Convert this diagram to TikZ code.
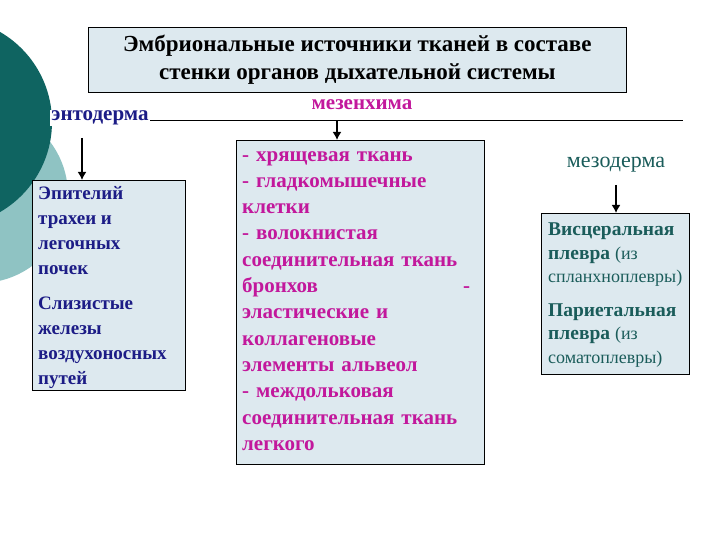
\documentclass[tikz,border=0pt]{standalone}
\usepackage{fontspec}
\usetikzlibrary{arrows.meta}
\setmainfont{Liberation Serif}
\begin{document}
\begin{tikzpicture}[x=1pt,y=-1pt,
  bx/.style={draw=black,fill=boxbg,line width=0.8pt,inner sep=0pt},
  arr/.style={-{Latex[length=8pt,width=9pt]},line width=2pt},
  lbl/.style={font=\bfseries\fontsize{21}{24}\selectfont}]
\definecolor{boxbg}{HTML}{DDE9EF}
\definecolor{dteal}{HTML}{0F6461}
\definecolor{lteal}{HTML}{8FC3C3}
\definecolor{dblue}{HTML}{1C1C86}
\definecolor{mag}{HTML}{C2189C}
\definecolor{tealtx}{HTML}{1A5C5A}
\useasboundingbox (0,0) rectangle (720,540);
\fill[lteal] (-20,195) circle (88);
\fill[dteal] (-52,122) circle (104);
\node[bx,minimum width=538,minimum height=65,anchor=north west,align=center,
  font=\bfseries\fontsize{23}{28}\selectfont] (title) at (88,27)
  {Эмбриональные источники тканей в составе\\стенки органов дыхательной системы};
\coordinate (l1) at (52,120); \coordinate (l2) at (683,120);
\draw[line width=0.8pt] (l1) -- (l2);
\node[lbl,text=dblue,fill=white,inner sep=1pt] (ento) at (100,118) {энтодерма};
\node[lbl,text=mag] (mes) at (362,105) {мезенхима};
\node[lbl,text=tealtx,font=\fontsize{22}{24}\selectfont] (meso) at (616,165) {мезодерма};
\node[bx,minimum width=153,minimum height=210,anchor=north west] (lb) at (32,180) {};
\node[anchor=north west,align=left,text=dblue,font=\bfseries\fontsize{19}{25}\selectfont,inner sep=0pt] at (38,186)
  {Эпителий\\трахеи и\\легочных\\почек\\[10pt]Слизистые\\железы\\воздухоносных\\путей};
\node[bx,minimum width=248,minimum height=324,anchor=north west] (mb) at (236,140) {};
\node[anchor=north west,align=left,text=mag,text width=228,font=\bfseries\fontsize{21}{26.3}\selectfont,inner sep=0pt] at (242,151)
  {- хрящевая ткань\\- гладкомышечные\\клетки\\- волокнистая\\соединительная ткань\\бронхов\hfill-\\эластические и\\коллагеновые\\элементы альвеол\\- междольковая\\соединительная ткань\\легкого};
\node[bx,minimum width=148,minimum height=161,anchor=north west] (rb) at (541,213) {};
\node[anchor=north west,align=left,text=tealtx,font=\bfseries\fontsize{19.5}{23.5}\selectfont,inner sep=0pt] at (548,223)
  {Висцеральная\\плевра {\mdseries\fontsize{18}{23.5}\selectfont(из}\\{\mdseries\fontsize{18}{23.5}\selectfont спланхноплевры)}\\[10pt]Париетальная\\плевра {\mdseries\fontsize{18}{23.5}\selectfont(из}\\{\mdseries\fontsize{18}{23.5}\selectfont соматоплевры)}};
\coordinate (a1) at (82,138);
\draw[arr] (a1) -- (lb.north west -| a1);
\coordinate (a2) at (337,121);
\draw[arr] (a2) -- (mb.north west -| a2);
\coordinate (a3) at (616,185);
\draw[arr] (a3) -- (rb.north west -| a3);
\end{tikzpicture}
\end{document}
